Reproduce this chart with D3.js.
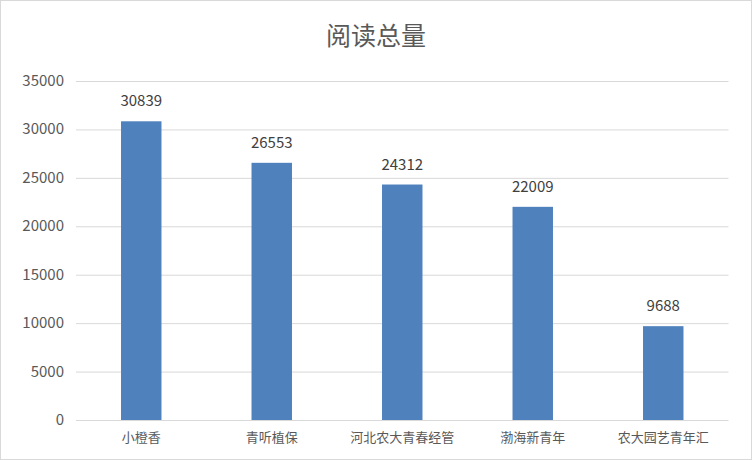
<!DOCTYPE html>
<html><head><meta charset="utf-8">
<script src="https://cdn.jsdelivr.net/npm/d3@7"></script>
<style>body{margin:0;background:#fff}</style></head>
<body><svg width="752" height="460"></svg>
<script>
const categories=["小橙香","青听植保","河北农大青春经管","渤海新青年","农大园艺青年汇"];
const values=[30839,26553,24312,22009,9688];
const yTicks=[0,5000,10000,15000,20000,25000,30000,35000];
const svg=d3.select("svg");
const font="'Noto Sans CJK SC', 'Microsoft YaHei', sans-serif";
svg.append("rect").attr("x",0.5).attr("y",0.5).attr("width",751).attr("height",459).attr("fill","#fff").attr("stroke","#d9d9d9");
const x=d3.scaleBand().domain(categories).range([76,728.5]).paddingInner(0.69).paddingOuter(0.345);
const y=d3.scaleLinear().domain([0,35000]).range([420,81]);
svg.append("g").selectAll("line").data(yTicks).join("line")
 .attr("x1",76).attr("x2",728.5).attr("y1",d=>y(d)+0.5).attr("y2",d=>y(d)+0.5).attr("stroke","#d9d9d9");
svg.append("g").selectAll("text").data(yTicks).join("text")
 .attr("x",64).attr("y",d=>y(d)+5).attr("text-anchor","end").attr("font-size",15).attr("fill","#595959").attr("font-family",font).text(d=>d);
svg.append("g").selectAll("rect").data(values).join("rect")
 .attr("x",(d,i)=>x(categories[i])).attr("width",x.bandwidth()).attr("y",d=>y(d)).attr("height",d=>420-y(d)).attr("fill","#4f81bd");
svg.append("g").selectAll("text").data(values).join("text")
 .attr("x",(d,i)=>x(categories[i])+x.bandwidth()/2).attr("y",d=>y(d)-15).attr("text-anchor","middle").attr("font-size",15).attr("fill","#404040").attr("font-family",font).text(d=>d);
svg.append("g").selectAll("text").data(categories).join("text")
 .attr("x",d=>x(d)+x.bandwidth()/2).attr("y",442).attr("text-anchor","middle").attr("font-size",13).attr("fill","#595959").attr("font-family",font).text(d=>d);
svg.append("text").attr("x",376).attr("y",45).attr("text-anchor","middle").attr("font-size",25).attr("fill","#595959").attr("font-family",font).text("阅读总量");
</script></body></html>
